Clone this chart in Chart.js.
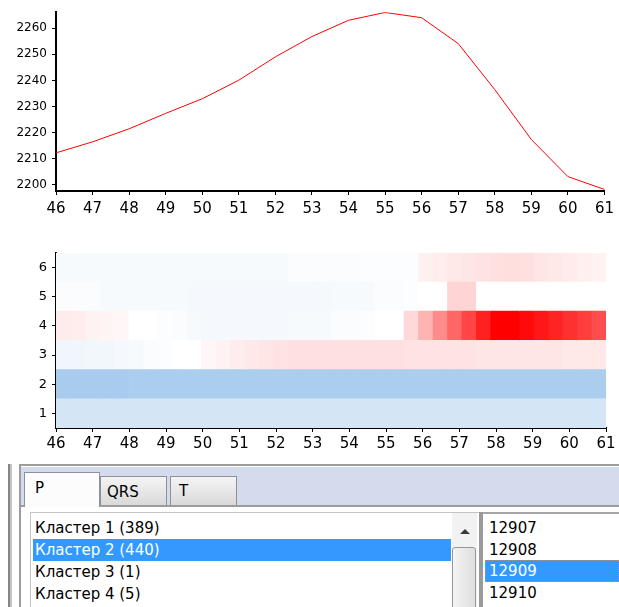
<!DOCTYPE html>
<html>
<head>
<meta charset="utf-8">
<script src="https://cdn.jsdelivr.net/npm/chart.js@4/dist/chart.umd.min.js"></script>
<style>
  body { margin: 0; background: #fff; font-family: "DejaVu Sans", sans-serif; }
  #wrap { position: relative; width: 619px; height: 607px; overflow: hidden; background: #fff; }
  #wrap canvas { position: absolute; left: 0; }
  .abs { position: absolute; }
  .tab { position: absolute; box-sizing: border-box; border: 1px solid #8e9099; border-bottom: none;
         background: linear-gradient(#f4f4f4, #e6e6e6 55%, #d9d9d9); font-size: 15px; color: #000; }
  .item { position: absolute; height: 22px; line-height: 22px; font-size: 15px; color: #000; white-space: nowrap; }
  .sel { background: #3399ff; color: #fff; }
</style>
</head>
<body>
<div id="wrap">
  <canvas id="lineChart" width="619" height="230" style="top:0"></canvas>
  <canvas id="heatChart" width="619" height="220" style="top:240px"></canvas>

  <!-- window frame -->
  <div class="abs" style="left:8px;top:464px;width:2px;height:143px;background:#858585"></div>
  <div class="abs" style="left:10px;top:464px;width:2px;height:143px;background:#c4c4c4"></div>
  <div class="abs" style="left:19px;top:464px;width:600px;height:143px;border-left:2px solid #9c9c9c;border-top:2px solid #9c9c9c"></div>
  <!-- tab strip -->
  <div class="abs" style="left:21px;top:467px;width:598px;height:38px;background:#d4dbed"></div>
  <div class="abs" style="left:21px;top:505px;width:598px;height:2px;background:#9c9c9c"></div>
  <div class="tab" style="left:100px;top:476px;width:67px;height:29px"><span class="abs" style="left:6px;top:6px">QRS</span></div>
  <div class="tab" style="left:170px;top:476px;width:67px;height:29px"><span class="abs" style="left:8px;top:5px">T</span></div>
  <div class="tab" style="left:24px;top:472px;width:76px;height:35px;background:#fcfcfc"><span class="abs" style="left:10px;top:6px">P</span></div>

  <!-- left list -->
  <div class="abs" style="left:30px;top:512px;width:450px;height:95px;border-left:1px solid #c3c3c3;border-top:1px solid #c3c3c3"></div>
  <div id="clusters"></div>
  <div class="abs" style="left:452px;top:513px;width:25px;height:94px;background:#f2f2f2"></div>
  <div class="abs" style="left:460px;top:529px;width:0;height:0;border-left:5px solid transparent;border-right:5px solid transparent;border-bottom:5px solid #3a3a3a"></div>
  <div class="abs" style="left:452px;top:547px;width:22px;height:80px;border:1px solid #979797;border-radius:3px;background:linear-gradient(to right,#f4f4f4,#dedede)"></div>
  <!-- divider -->
  <div class="abs" style="left:479px;top:512px;width:4px;height:95px;background:#9a9a9a"></div>
  <!-- right list -->
  <div class="abs" style="left:483px;top:512px;width:136px;height:2px;background:#a5a5a5"></div>
  <div id="records"></div>
</div>

<script>
// line chart data
const xTicks = [46, 47, 48, 49, 50, 51, 52, 53, 54, 55, 56, 57, 58, 59, 60, 61];
const lineX = [46, 47, 48, 49, 50, 51, 52, 53, 54, 55, 56, 57, 58, 59, 60, 61];
const lineY = [2212.3, 2216.5, 2221.5, 2227.4, 2233.0, 2240.1, 2249.0, 2256.8,
               2263.0, 2266.0, 2264.0, 2254.1, 2236.5, 2217.4, 2203.2, 2198.3];
const yTicks = [2200, 2210, 2220, 2230, 2240, 2250, 2260];

// heatmap data: 38 columns between 46 and 61, rows 6 (top) .. 1 (bottom)
const heatLabels = ['6', '5', '4', '3', '2', '1'];
const heatStart = 46, heatEnd = 61;
const heat6 = [-0.03, -0.03, -0.03, -0.03, -0.03, -0.03, -0.03, -0.03, -0.03, -0.03, -0.03, -0.03, -0.03,
               -0.03, -0.03, -0.03, -0.02, -0.02, -0.02, -0.02, -0.02, -0.01, -0.01, -0.01, -0.01,
               0.06, 0.07, 0.09, 0.10, 0.11, 0.12, 0.13, 0.12, 0.10, 0.09, 0.08, 0.06, 0.05];
const heat5 = [-0.02, -0.02, -0.02, -0.03, -0.03, -0.03, -0.03, -0.03, -0.03, -0.04, -0.04, -0.04, -0.04,
               -0.04, -0.04, -0.04, -0.04, -0.04, -0.04, -0.03, -0.03, -0.03, -0.02, -0.02, -0.01,
               0, 0, 0.17, 0.17, 0, 0, 0, 0, 0, 0, 0, 0, 0];
const heat4 = [0.08, 0.07, 0.05, 0.04, 0.03, 0, 0, -0.01, -0.02, -0.03, -0.04, -0.04, -0.04,
               -0.04, -0.04, -0.04, -0.03, -0.03, -0.03, -0.02, -0.02, -0.01, 0, 0,
               0.15, 0.30, 0.45, 0.60, 0.73, 0.87, 1.0, 1.0, 0.96, 0.91, 0.86, 0.81, 0.76, 0.70];
const heat3 = [-0.06, -0.06, -0.05, -0.05, -0.04, -0.03, -0.02, -0.01, 0, 0, 0.03, 0.05, 0.07,
               0.09, 0.10, 0.11, 0.12, 0.12, 0.12, 0.12, 0.12, 0.12, 0.12, 0.12, 0.11,
               0.11, 0.11, 0.11, 0.11, 0.10, 0.10, 0.10, 0.10, 0.10, 0.10, 0.09, 0.09, 0.09];
const heat2 = [-0.34, -0.34, -0.34, -0.34, -0.34, -0.33, -0.33, -0.33, -0.33, -0.33, -0.33, -0.33, -0.33,
               -0.33, -0.33, -0.33, -0.33, -0.33, -0.33, -0.33, -0.33, -0.33, -0.33, -0.33, -0.33,
               -0.33, -0.33, -0.33, -0.33, -0.33, -0.33, -0.33, -0.33, -0.33, -0.33, -0.33, -0.33, -0.33];
const heat1 = [-0.17, -0.17, -0.17, -0.17, -0.17, -0.17, -0.17, -0.17, -0.17, -0.17, -0.17, -0.17, -0.17,
               -0.17, -0.17, -0.17, -0.17, -0.17, -0.17, -0.17, -0.17, -0.17, -0.17, -0.17, -0.17,
               -0.17, -0.17, -0.17, -0.17, -0.17, -0.17, -0.17, -0.17, -0.17, -0.17, -0.17, -0.17, -0.17];

// list contents
const clusterNames = ['Кластер 1 (389)', 'Кластер 2 (440)', 'Кластер 3 (1)', 'Кластер 4 (5)'];
const clusterSelected = 1;
const recordIds = ['12907', '12908', '12909', '12910'];
const recordSelected = 2;

const FONT = 'DejaVu Sans';

// white -> red for positive, white -> blue for negative
function heatColor(v) {
  if (v >= 0) {
    const c = Math.round(255 * (1 - v));
    return `rgb(255,${c},${c})`;
  }
  const t = -v;
  return `rgb(${Math.round(255 - 255 * t)},${Math.round(255 - 153 * t)},${Math.round(255 - 51 * t)})`;
}

function axisX(height, pad) {
  return {
    type: 'linear', min: heatStart, max: heatEnd,
    afterBuildTicks: s => { s.ticks = xTicks.map(v => ({ value: v })); },
    afterFit: s => { s.height = height; },
    ticks: { color: '#000', font: { family: FONT, size: 15 }, padding: pad, maxRotation: 0, autoSkip: false,
             callback: v => String(v) },
    grid: { drawOnChartArea: false, tickLength: 4, color: '#000' },
    border: { color: '#000', width: 2 }
  };
}

// line chart
new Chart(document.getElementById('lineChart'), {
  type: 'line',
  data: {
    datasets: [{
      data: lineX.map((x, i) => ({ x: x, y: lineY[i] })),
      borderColor: '#ff0000',
      borderWidth: 1,
      pointRadius: 0,
      tension: 0
    }]
  },
  options: {
    responsive: false, animation: false, devicePixelRatio: 1,
    layout: { padding: { top: 12, right: 13, bottom: 0, left: 0 } },
    plugins: { legend: { display: false }, tooltip: { enabled: false } },
    scales: {
      x: axisX(39, 5),
      y: {
        min: 2197.7, max: 2266.1,
        afterBuildTicks: s => { s.ticks = yTicks.map(v => ({ value: v })); },
        afterFit: s => { s.width = 56; },
        ticks: { color: '#000', font: { family: FONT, size: 12 }, padding: 5, callback: v => String(v) },
        grid: { drawOnChartArea: false, tickLength: 4, color: '#000' },
        border: { color: '#000', width: 2 }
      }
    }
  }
});

// heatmap built from floating horizontal bars, one dataset per column
const heatRows = [heat6, heat5, heat4, heat3, heat2, heat1];
const colCount = heat1.length;
const step = (heatEnd - heatStart) / colCount;
const heatSets = [];
for (let k = 0; k < colCount; k++) {
  heatSets.push({
    data: heatRows.map(() => [heatStart + k * step, heatStart + (k + 1) * step]),
    backgroundColor: heatRows.map(r => heatColor(r[k])),
    borderWidth: 0,
    barPercentage: 1,
    categoryPercentage: 1
  });
}

new Chart(document.getElementById('heatChart'), {
  type: 'bar',
  data: { labels: heatLabels, datasets: heatSets },
  options: {
    indexAxis: 'y',
    responsive: false, animation: false, devicePixelRatio: 1,
    layout: { padding: { top: 11, right: 13, bottom: 0, left: 0 } },
    plugins: { legend: { display: false }, tooltip: { enabled: false } },
    scales: {
      x: axisX(32, 3),
      y: {
        type: 'category', stacked: true,
        afterFit: s => { s.width = 56; },
        ticks: { color: '#000', font: { family: FONT, size: 13 }, padding: 5 },
        grid: { offset: false, drawOnChartArea: false, tickLength: 4, color: '#000' },
        border: { color: '#000', width: 2 }
      }
    }
  }
});

// list boxes
const clusters = document.getElementById('clusters');
clusterNames.forEach((name, i) => {
  const d = document.createElement('div');
  d.className = 'item' + (i === clusterSelected ? ' sel' : '');
  d.style.left = '33px';
  d.style.width = '416px';
  d.style.paddingLeft = '2px';
  d.style.top = (517 + i * 22) + 'px';
  d.textContent = name;
  clusters.appendChild(d);
});
const records = document.getElementById('records');
recordIds.forEach((id, i) => {
  const d = document.createElement('div');
  d.className = 'item' + (i === recordSelected ? ' sel' : '');
  d.style.left = '485px';
  d.style.width = '134px';
  d.style.paddingLeft = '4px';
  d.style.boxSizing = 'border-box';
  d.style.top = (517 + i * 21.7) + 'px';
  if (i === recordSelected) {
    d.style.border = '1px dotted #d08a3a';
    d.style.lineHeight = '20px';
    d.style.paddingLeft = '3px';
  }
  d.textContent = id;
  records.appendChild(d);
});
</script>
</body>
</html>
